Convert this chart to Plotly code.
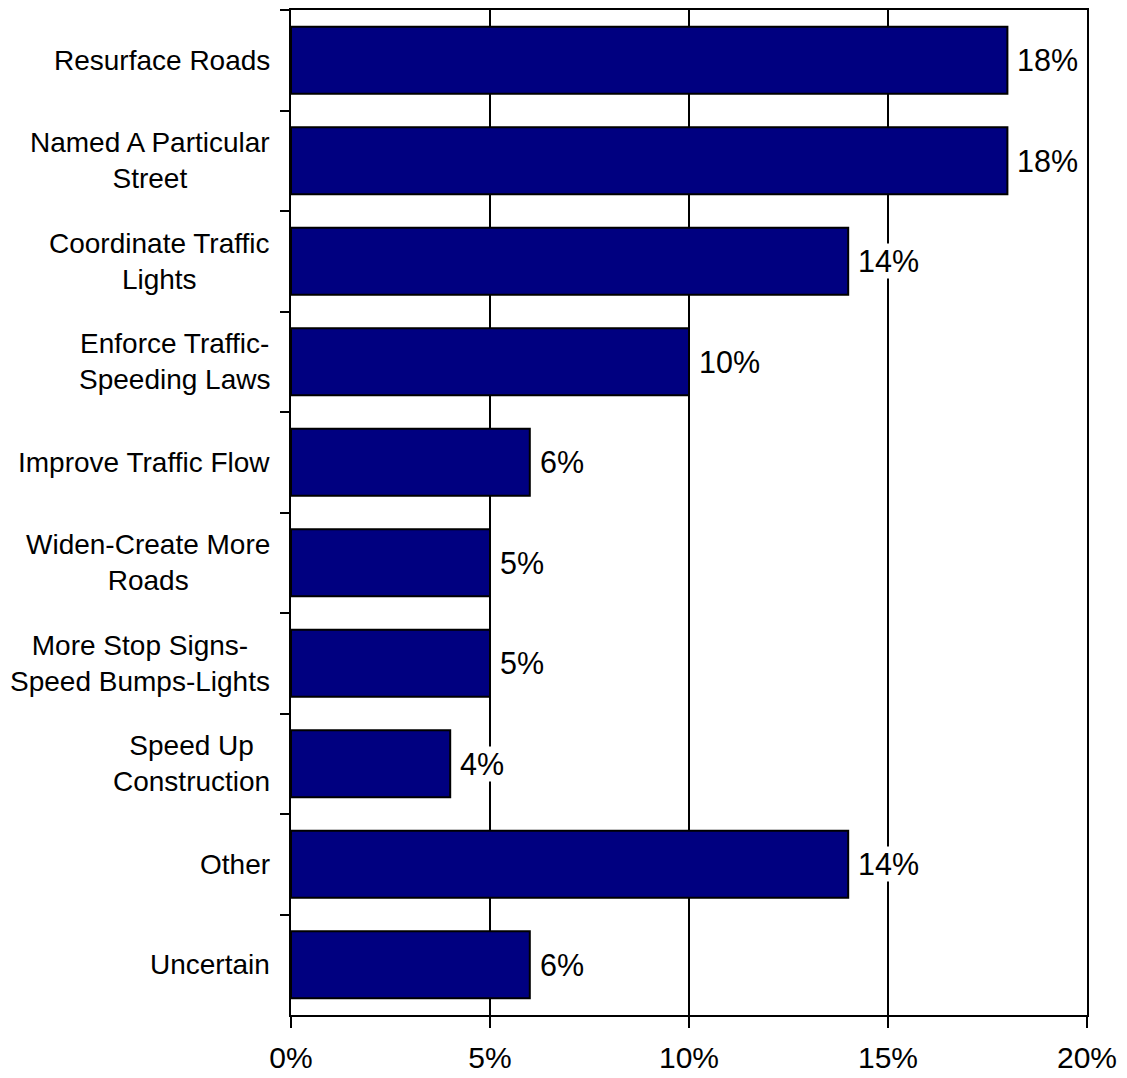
import plotly.graph_objects as go

# Survey responses: most needed transportation improvement
categories = [
    "Resurface Roads",
    "Named A Particular<br>Street",
    "Coordinate Traffic<br>Lights",
    "Enforce Traffic-<br>Speeding Laws",
    "Improve Traffic Flow",
    "Widen-Create More<br>Roads",
    "More Stop Signs-<br>Speed Bumps-Lights",
    "Speed Up<br>Construction",
    "Other",
    "Uncertain",
]
values = [18, 18, 14, 10, 6, 5, 5, 4, 14, 6]

tick_vals = [0, 5, 10, 15, 20]
tick_text = ["0%", "5%", "10%", "15%", "20%"]

FONT = "Liberation Sans, Arial, sans-serif"

fig = go.Figure()
fig.add_trace(go.Bar(
    x=values,
    y=categories,
    orientation="h",
    marker=dict(color="#000080", line=dict(color="black", width=2)),
    width=0.667,
    hoverinfo="skip",
))

# Percentage labels just past the end of each bar (white box hides gridlines)
for cat, v in zip(categories, values):
    fig.add_annotation(
        x=v, y=cat, xref="x", yref="y",
        text=f"{v}%", showarrow=False,
        xanchor="left", yanchor="middle", xshift=9,
        bgcolor="white", borderpad=0,
        font=dict(family=FONT, size=30.5, color="black"),
    )

# Category labels, centred line by line, to the left of the axis
for cat in categories:
    fig.add_annotation(
        x=0, y=cat, xref="paper", yref="y",
        text=cat, showarrow=False,
        xanchor="right", yanchor="middle", xshift=-19,
        align="center",
        font=dict(family=FONT, size=28, color="black"),
    )

fig.update_layout(
    width=1127, height=1078,
    margin=dict(l=291, r=40, t=10, b=63, autoexpand=False),
    paper_bgcolor="white",
    plot_bgcolor="white",
    showlegend=False,
    font=dict(family=FONT, color="black"),
    xaxis=dict(
        range=[0, 20],
        tickvals=tick_vals,
        ticktext=tick_text,
        ticks="outside", ticklen=11, tickwidth=2, tickcolor="black",
        ticklabelstandoff=4,
        automargin=False,
        showline=True, linecolor="black", linewidth=2, mirror=True,
        showgrid=True, gridcolor="black", gridwidth=2,
        zeroline=False,
        tickfont=dict(family=FONT, size=30, color="black"),
        fixedrange=True,
    ),
    yaxis=dict(
        type="category",
        categoryorder="array", categoryarray=categories,
        range=[9.5, -0.5],
        tickson="boundaries",
        ticks="outside", ticklen=9, tickwidth=2, tickcolor="black",
        showticklabels=False,
        automargin=False,
        showline=True, linecolor="black", linewidth=2, mirror=True,
        showgrid=False, zeroline=False,
        fixedrange=True,
    ),
)

fig.write_html("out.html")
